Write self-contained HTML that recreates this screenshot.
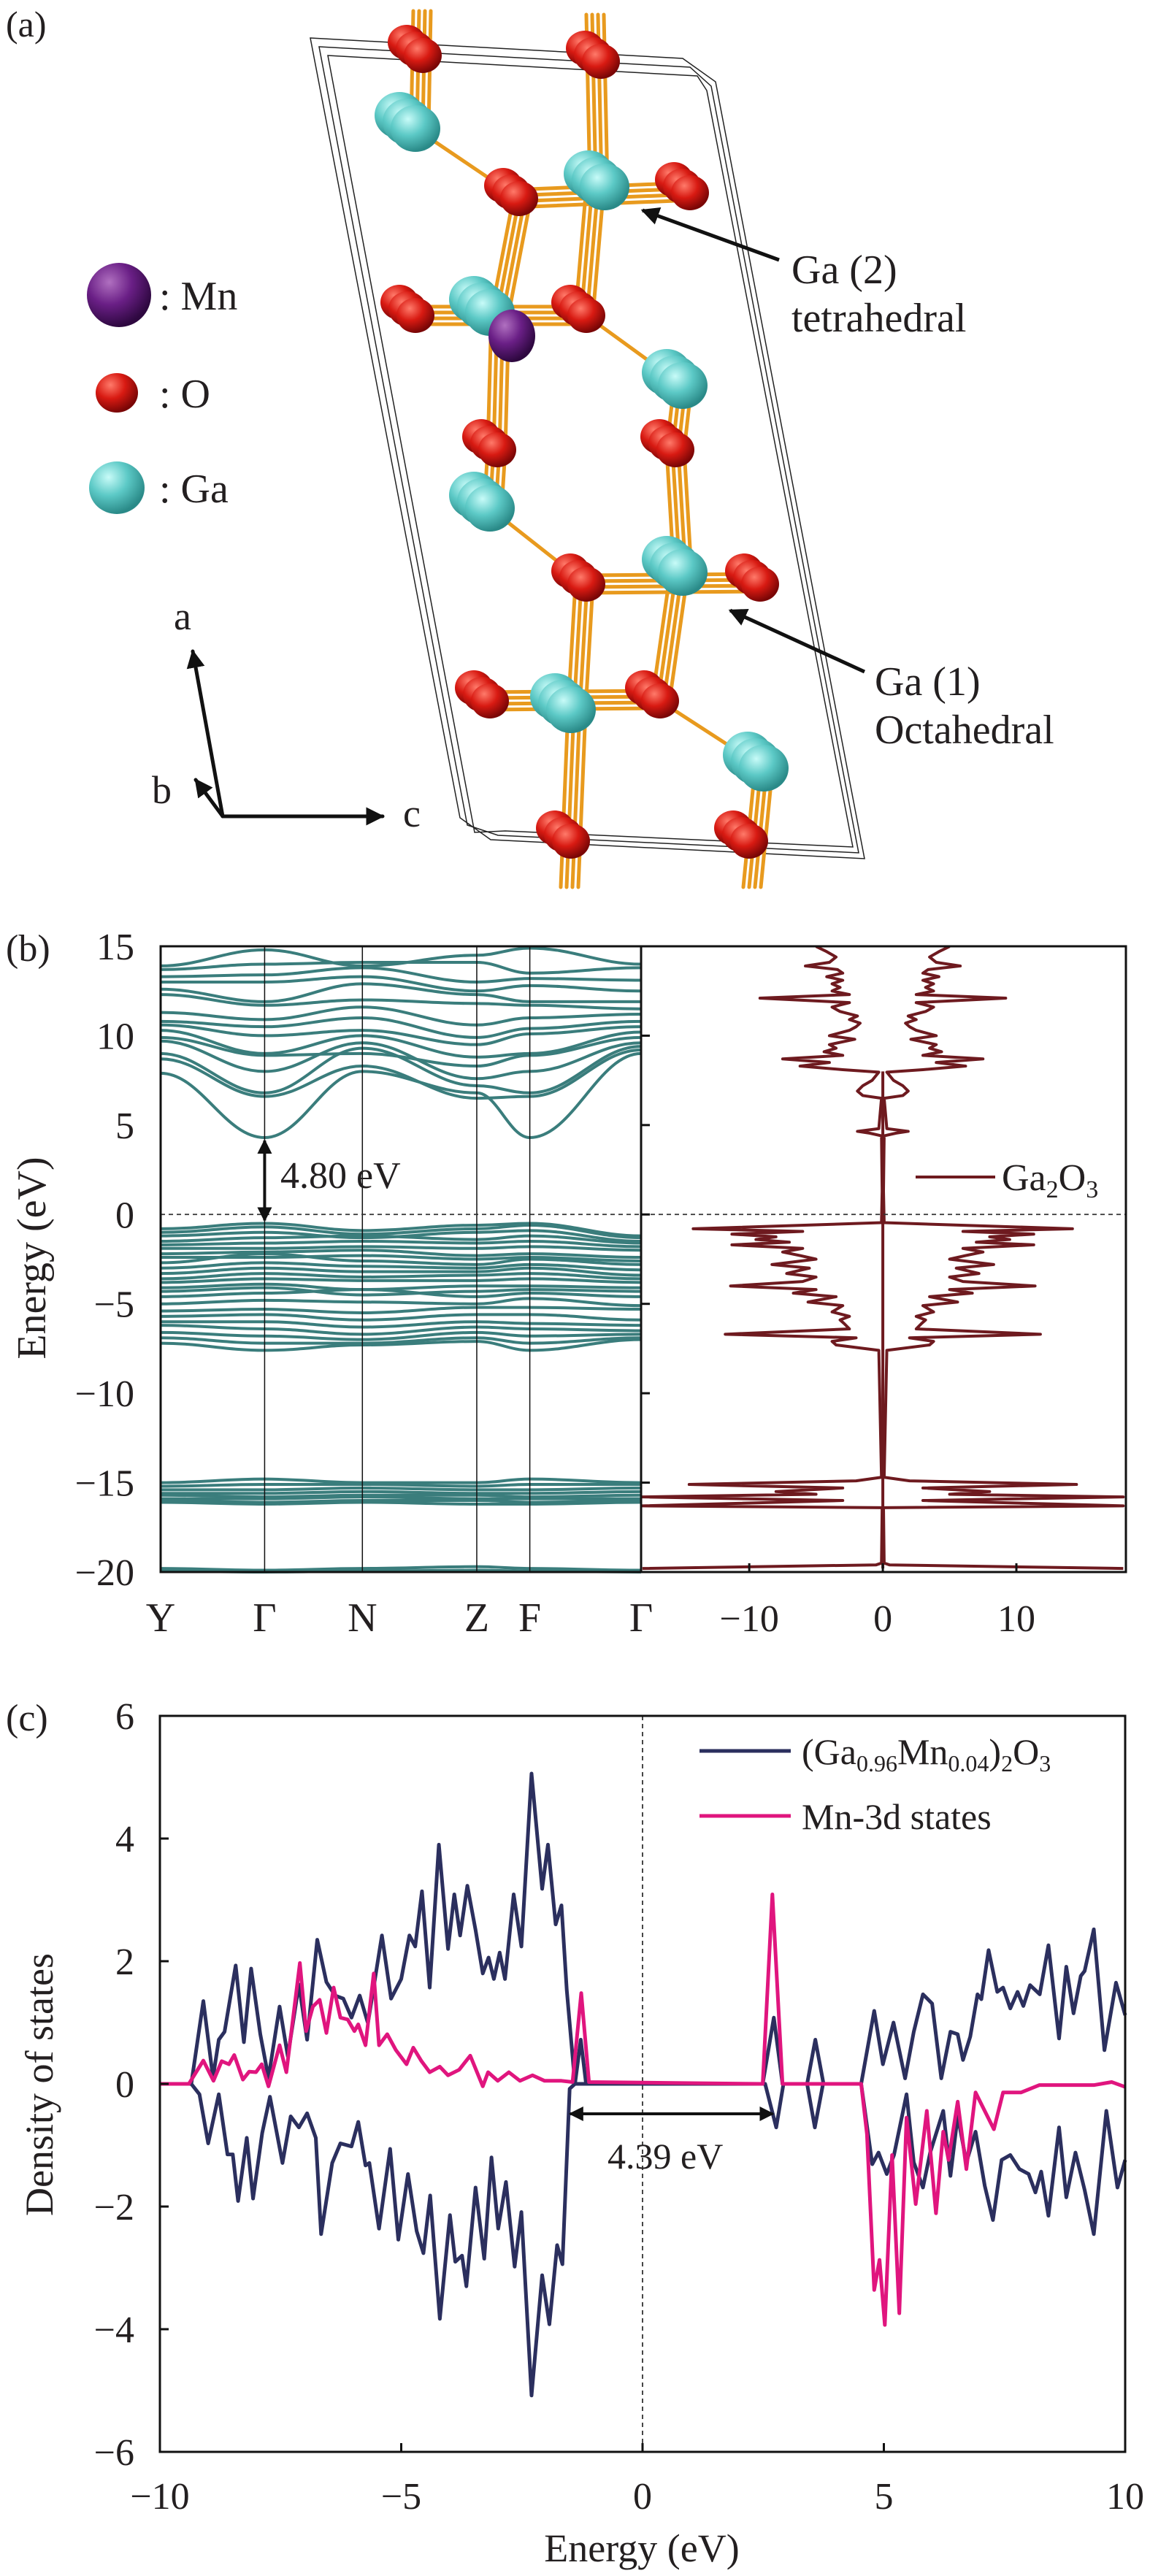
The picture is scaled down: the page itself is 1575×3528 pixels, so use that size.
<!DOCTYPE html>
<html><head><meta charset="utf-8"><style>
html,body{margin:0;padding:0;background:#fff}
svg{display:block}
text{font-family:"Liberation Serif","DejaVu Serif",serif;fill:#231f20}
</style></head>
<body>
<svg id="fig" width="1575" height="3528" viewBox="0 0 1575 3528" xmlns="http://www.w3.org/2000/svg">
<defs>
<radialGradient id="gO" cx="35%" cy="30%" r="70%"><stop offset="0" stop-color="#ff7a6a"/><stop offset="0.5" stop-color="#d81a12"/><stop offset="1" stop-color="#7a0606"/></radialGradient>
<radialGradient id="gGa" cx="35%" cy="30%" r="70%"><stop offset="0" stop-color="#c8fbf8"/><stop offset="0.5" stop-color="#5cc9c6"/><stop offset="1" stop-color="#2a8a88"/></radialGradient>
<radialGradient id="gMn" cx="35%" cy="30%" r="70%"><stop offset="0" stop-color="#b070c0"/><stop offset="0.5" stop-color="#6a1f86"/><stop offset="1" stop-color="#2e0840"/></radialGradient>
<marker id="ah" viewBox="0 0 10 10" refX="9" refY="5" markerWidth="5" markerHeight="5" orient="auto-start-reverse"><path d="M0,0 L10,5 L0,10 z" fill="#111"/></marker>
</defs>

<!-- ============ Panel (a) ============ -->
<g id="panel-a">
<text x="8" y="50" font-size="50">(a)</text>
<g id="cell" fill="none" stroke="#222" stroke-width="1.5"></g>
<g id="bonds" stroke="#e89a1e" stroke-width="5" stroke-linecap="round"></g>
<g id="atoms"></g>
<g>
<circle cx="163" cy="404" r="44" fill="url(#gMn)"/>
<text x="218" y="424" font-size="56">: Mn</text>
<ellipse cx="160" cy="538" rx="29" ry="27" fill="url(#gO)"/>
<text x="218" y="558" font-size="56">: O</text>
<ellipse cx="160" cy="668" rx="38" ry="36" fill="url(#gGa)"/>
<text x="218" y="688" font-size="56">: Ga</text>
</g>
<g stroke="#111" stroke-width="5" fill="none" stroke-linecap="round">
<line x1="305" y1="1118" x2="264" y2="892" marker-end="url(#ah)"/>
<line x1="305" y1="1118" x2="268" y2="1068" marker-end="url(#ah)"/>
<line x1="305" y1="1118" x2="524" y2="1118" marker-end="url(#ah)"/>
</g>
<text x="238" y="862" font-size="54">a</text>
<text x="208" y="1100" font-size="54">b</text>
<text x="552" y="1132" font-size="54">c</text>
<line x1="1067" y1="356" x2="880" y2="288" stroke="#111" stroke-width="5" marker-end="url(#ah)"/>
<text x="1084" y="388" font-size="56">Ga (2)</text>
<text x="1084" y="454" font-size="56">tetrahedral</text>
<line x1="1184" y1="920" x2="1000" y2="836" stroke="#111" stroke-width="5" marker-end="url(#ah)"/>
<text x="1198" y="952" font-size="56">Ga (1)</text>
<text x="1198" y="1018" font-size="56">Octahedral</text>
</g>

<!-- ============ Panel (b) ============ -->
<g id="panel-b">
<text x="8" y="1316" font-size="52">(b)</text>
<g id="b-bands" fill="none" stroke="#3a7d7c" stroke-width="4"></g>
<g id="b-dos" fill="none" stroke="#6e1a1f" stroke-width="4" stroke-linejoin="round"></g>
<g id="b-axes"></g>
<text transform="translate(62,1723) rotate(-90)" text-anchor="middle" font-size="56">Energy (eV)</text>
<text x="384" y="1627" font-size="52">4.80 eV</text>
<line x1="1254" y1="1612" x2="1363" y2="1612" stroke="#6e1a1f" stroke-width="4"/>
<text x="1372" y="1630" font-size="52">Ga<tspan font-size="34" dy="10">2</tspan><tspan dy="-10">O</tspan><tspan font-size="34" dy="10">3</tspan></text>
</g>

<!-- ============ Panel (c) ============ -->
<g id="panel-c">
<text x="8" y="2370" font-size="52">(c)</text>
<g id="c-plot"></g>
<text transform="translate(72,2855) rotate(-90)" text-anchor="middle" font-size="54">Density of states</text>
<text x="879" y="3508" text-anchor="middle" font-size="54">Energy (eV)</text>
<line x1="958" y1="2398" x2="1083" y2="2398" stroke="#2b2f5e" stroke-width="5"/>
<text x="1098" y="2416" font-size="50">(Ga<tspan font-size="32" dy="10">0.96</tspan><tspan dy="-10">Mn</tspan><tspan font-size="32" dy="10">0.04</tspan><tspan dy="-10">)</tspan><tspan font-size="32" dy="10">2</tspan><tspan dy="-10">O</tspan><tspan font-size="32" dy="10">3</tspan></text>
<line x1="958" y1="2487" x2="1083" y2="2487" stroke="#e0157e" stroke-width="5"/>
<text x="1098" y="2505" font-size="50">Mn-3d states</text>
<text x="832" y="2970" font-size="50">4.39 eV</text>
</g>
</svg>

<script>
// ---------- Panel (b) data ----------
const kLabels = ["Y","Γ","N","Z","F","Γ"];
const kPos = [0, 1, 1.94, 3.04, 3.55, 4.62];
const condBands = [
[7.9,4.3,8.0,6.8,4.3,9.0],[8.7,6.6,8.3,6.5,6.6,9.2],[9.0,6.8,9.3,7.2,6.8,9.4],
[9.7,8.0,9.6,7.6,8.0,9.6],[9.9,8.9,9.0,8.3,8.9,9.9],[10.3,9.0,10.0,8.8,9.0,10.2],
[10.6,10.0,10.3,9.5,10.1,10.5],[10.8,10.5,11.0,9.9,10.4,10.8],[11.3,10.9,11.6,10.6,11.0,11.2],
[12.3,11.7,12.0,11.8,11.7,11.5],[12.6,11.9,12.9,12.3,11.9,11.9],[13.0,13.0,13.3,12.5,12.8,12.5],
[13.3,13.4,13.8,13.0,13.2,13.1],[13.7,14.0,14.1,14.1,13.5,13.8],[13.9,14.8,13.9,14.5,14.9,14.0]];
const valBands = [
[-0.8,-0.5,-0.9,-0.6,-0.5,-1.2],[-1.0,-0.7,-1.1,-0.8,-0.6,-1.3],[-1.2,-1.0,-1.3,-1.0,-0.9,-1.5],
[-1.5,-1.3,-1.2,-1.4,-1.2,-1.6],[-1.7,-1.6,-1.5,-1.6,-1.5,-1.8],[-1.9,-1.9,-1.8,-1.9,-1.8,-2.0],
[-2.2,-2.1,-2.0,-2.3,-2.2,-2.4],[-2.4,-2.4,-2.3,-2.5,-2.4,-2.6],[-2.7,-2.2,-2.6,-2.8,-2.5,-2.8],
[-3.0,-2.7,-2.9,-3.0,-2.8,-3.1],[-3.3,-3.0,-3.2,-3.2,-3.0,-3.4],[-3.6,-3.3,-3.5,-3.4,-3.3,-3.6],
[-3.8,-3.6,-3.7,-3.7,-3.6,-3.8],[-4.1,-3.9,-4.2,-4.0,-4.0,-4.1],[-4.3,-4.1,-4.5,-4.3,-4.2,-4.3],
[-4.6,-4.4,-4.2,-4.6,-4.4,-4.6],[-5.0,-4.8,-4.9,-5.0,-4.7,-5.1],[-5.4,-5.3,-5.5,-5.2,-5.2,-5.3],
[-5.7,-5.6,-5.9,-5.6,-5.6,-5.9],[-6.0,-6.0,-6.3,-6.0,-6.1,-6.2],[-6.2,-6.4,-6.7,-6.3,-6.4,-6.5],
[-6.6,-6.8,-7.0,-6.6,-6.8,-6.7],[-6.9,-7.2,-7.2,-6.9,-7.2,-6.9],[-7.2,-7.6,-7.3,-7.1,-7.6,-7.0]];
const coreBands = [
[-15.0,-14.8,-15.0,-15.0,-14.8,-15.0],[-15.2,-15.1,-15.1,-15.2,-15.1,-15.1],
[-15.4,-15.4,-15.3,-15.4,-15.4,-15.3],[-15.6,-15.6,-15.5,-15.6,-15.6,-15.5],
[-15.7,-15.8,-15.7,-15.7,-15.8,-15.7],[-15.9,-15.9,-15.8,-15.9,-15.9,-15.9],
[-16.0,-16.1,-16.0,-16.0,-16.1,-16.0],[-16.1,-16.2,-16.1,-16.2,-16.2,-16.1],
[-19.8,-19.9,-19.8,-19.7,-19.8,-19.9],[-19.95,-20,-19.95,-19.9,-19.95,-20]];
const bandTicks = [15,10,5,0,-5,-10,-15,-20];
const dosE = [-19.8,-19.6,-19.5,-16.4,-16.3,-16.0,-15.8,-15.65,-15.5,-15.3,-15.1,-14.9,-14.7,
-7.6,-7.3,-7.1,-6.9,-6.7,-6.4,-6.1,-5.9,-5.7,-5.45,-5.1,-4.9,-4.6,-4.4,-4.2,-4.0,-3.75,-3.5,-3.3,-3.0,-2.8,-2.5,-2.3,-2.1,-1.9,-1.7,-1.55,-1.4,-1.25,-1.1,-0.95,-0.8,
-0.46,1.3,4.4,4.55,4.65,4.8,6.5,
6.65,6.9,7.2,7.5,7.96,8.1,8.3,8.5,8.7,8.9,9.1,9.3,9.5,9.8,10.0,10.3,10.5,10.7,10.9,11.1,11.35,11.6,11.85,12.1,12.3,12.5,12.7,12.9,13.1,13.3,13.5,13.7,13.9,14.1,14.4,14.7,14.99];
const dosV = [18,0.5,0.1,0.05,18,3,18,5,8.0,3,14.5,2,0.1,
0.3,3.5,3.8,2,11.8,2.5,2.9,3.2,2.5,3.8,3,5.6,3.5,6.7,5,11.4,6,5,7.2,5.5,8.3,5,6.2,7.5,6,11.3,7,9.5,8,11.3,6,14.2,
0.1,0.05,0.1,1.0,1.9,0.3,0.1,
1.5,1.9,1.5,0.8,0.3,3,6.2,4,7.5,3,4.4,3.5,4,2.1,4.0,2.5,2.0,1.7,2.5,1.9,3.2,3.8,2.5,9.2,2.5,3.8,3.2,3.8,3,4.2,3,3.4,5.8,4,3.5,4.2,5.0];
const dosTicks = [-10,0,10];

// ---------- Panel (c) data ----------
const totUpE = [-10,-9.35,-9.1,-8.9,-8.78,-8.66,-8.43,-8.26,-8.11,-7.92,-7.75,-7.52,-7.35,-7.12,-6.95,-6.74,-6.55,-6.37,-6.2,-6.03,-5.86,-5.69,-5.4,-5.21,-5.0,-4.83,-4.71,-4.57,-4.41,-4.22,-4.03,-3.9,-3.78,-3.63,-3.46,-3.31,-3.19,-3.08,-2.96,-2.85,-2.67,-2.51,-2.3,-2.08,-1.96,-1.8,-1.68,-1.57,-1.4,-1.28,-1.17,2.49,2.72,2.9,3.41,3.58,3.75,4.53,4.8,4.98,5.2,5.44,5.62,5.81,6.0,6.19,6.38,6.53,6.64,6.79,6.94,7.02,7.17,7.35,7.47,7.62,7.77,7.89,8.03,8.23,8.41,8.63,8.78,8.93,9.08,9.16,9.35,9.57,9.81,10];
const totUpV = [0,0,1.35,0.1,0.72,0.85,1.93,0.68,1.88,0.81,0.1,1.26,0.45,1.62,0.72,2.35,1.66,1.44,1.39,1.08,1.44,0.99,2.42,1.39,1.71,2.42,2.24,3.14,1.57,3.9,2.2,3.09,2.42,3.23,2.51,1.8,2.06,1.71,2.14,1.71,3.09,2.24,5.06,3.18,3.9,2.6,2.91,1.53,0,0.72,0,0,1.08,0,0,0.72,0,0,1.19,0.32,1.0,0.09,0.85,1.46,1.31,0.09,0.85,0.81,0.39,0.77,1.46,1.38,2.18,1.5,1.57,1.23,1.5,1.27,1.61,1.46,2.26,0.74,1.91,1.15,1.76,1.84,2.52,0.55,1.65,1.12];
const totDnE = [-10,-9.35,-9.18,-9.0,-8.78,-8.6,-8.49,-8.38,-8.2,-8.07,-7.88,-7.72,-7.46,-7.29,-7.12,-6.95,-6.77,-6.66,-6.43,-6.26,-6.03,-5.89,-5.74,-5.66,-5.46,-5.23,-5.06,-4.86,-4.68,-4.54,-4.4,-4.2,-3.99,-3.88,-3.74,-3.65,-3.46,-3.28,-3.13,-2.99,-2.83,-2.65,-2.51,-2.3,-2.08,-1.93,-1.77,-1.66,-1.51,-1.4,2.54,2.77,2.92,3.41,3.57,3.74,4.53,4.76,4.89,5.06,5.21,5.47,5.62,5.81,5.96,6.23,6.38,6.53,6.71,6.9,7.09,7.26,7.44,7.62,7.81,8.0,8.14,8.26,8.41,8.63,8.78,8.97,9.16,9.35,9.61,9.84,10];
const totDnV = [0,0,-0.17,-0.97,-0.17,-1.15,-1.15,-1.91,-0.88,-1.87,-0.8,-0.21,-1.29,-0.53,-0.71,-0.48,-0.88,-2.45,-1.29,-0.97,-1.02,-0.62,-1.33,-1.29,-2.36,-1.06,-2.54,-1.47,-2.4,-2.76,-1.82,-3.83,-2.14,-2.9,-2.8,-3.3,-1.69,-2.85,-1.2,-2.36,-1.6,-2.98,-2.09,-5.08,-3.12,-3.92,-2.63,-2.94,-0.08,0,0,-0.71,0,0,-0.71,0,0,-1.31,-1.12,-1.47,-1.16,-0.17,-1.28,-1.69,-1.12,-0.44,-1.5,-0.52,-1.28,-0.78,-1.66,-2.22,-1.24,-1.16,-1.39,-1.47,-1.77,-1.43,-2.15,-0.71,-1.85,-1.12,-1.73,-2.45,-0.44,-1.69,-1.24];
const mnE = [-10,-9.4,-9.1,-8.89,-8.72,-8.57,-8.46,-8.28,-8.15,-8.01,-7.89,-7.75,-7.52,-7.38,-7.1,-6.97,-6.83,-6.69,-6.55,-6.4,-6.26,-6.11,-5.97,-5.89,-5.74,-5.57,-5.46,-5.29,-5.11,-4.89,-4.75,-4.58,-4.41,-4.2,-4.03,-3.8,-3.57,-3.31,-3.2,-3.0,-2.77,-2.54,-2.28,-2.03,-1.68,-1.45,-1.27,-1.11,2.49,2.69,2.9,4.53,4.65,4.8,4.91,5.02,5.17,5.32,5.47,5.66,5.89,6.08,6.23,6.34,6.53,6.71,6.9,7.09,7.28,7.47,7.84,8.22,8.59,9.35,9.72,10];
const mnV = [0,0,0.38,0.05,0.37,0.32,0.47,0.07,0.2,0.19,0.32,-0.04,0.63,0.19,1.97,0.86,1.26,1.37,0.83,1.57,1.08,1.05,0.86,0.97,0.63,1.8,0.63,0.81,0.55,0.32,0.59,0.37,0.19,0.28,0.14,0.23,0.46,-0.04,0.19,0.05,0.19,0.05,0.14,0.05,0.05,0.03,1.48,0.03,0,3.09,0,0,-0.82,-3.36,-2.87,-3.93,-1.16,-3.74,-0.55,-1.96,-0.44,-2.11,-0.78,-1.24,-0.29,-1.39,-0.14,-0.44,-0.74,-0.14,-0.14,-0.02,-0.02,-0.02,0.03,-0.05];
const dosYTicks = [6,4,2,0,-2,-4,-6];
const dosXTicks = [-10,-5,0,5,10];
const gapStart = -1.5, gapEnd = 2.7;

const NS = "http://www.w3.org/2000/svg";
function mk(tag, attrs, parent){ const e=document.createElementNS(NS,tag); for(const k in attrs) e.setAttribute(k,attrs[k]); parent.appendChild(e); return e; }

// ---------- Panel (a) drawing ----------
(function(){
  const cell=document.getElementById('cell');
  for(let i=0;i<3;i++){
    const p=mk('polygon',{points:`${425+i*12},${52+i*12} ${935+i*10},${80+i*12} ${980-i*6},${112+i*6} ${1184-i*8},${1176-i*8} ${672+i*10},${1150-i*6} ${630+i*10},${1120+i*10}`},cell);
    
    
  }
  const bonds=document.getElementById('bonds');
  const bundles=[[578,15,575,176],[815,20,820,256],[815,256,800,432],[715,272,685,428],[685,428,680,616],[680,616,675,696],[935,528,925,616],[925,616,935,784],[800,800,790,972],[930,784,905,960],[790,972,780,1215],[1046,1052,1030,1215]];
  bundles.forEach(b=>{for(let j=0;j<4;j++){const l=mk('line',{x1:b[0]-12+j*8,y1:b[1],x2:b[2]-12+j*8,y2:b[3]},bonds);
    
    }});
  const hb=[[700,272,950,262],[560,432,808,432],[795,800,1050,798],[660,960,910,958]];
  hb.forEach(b=>{for(let j=0;j<4;j++){const l=mk('line',{x1:b[0],y1:b[1]-12+j*8,x2:b[2],y2:b[3]-12+j*8},bonds);
    
    }});
  [[569,176,711,272],[803,432,935,528],[671,696,803,800],[904,960,1046,1052]].forEach(b=>{const l=mk('line',{x1:b[0],y1:b[1],x2:b[2],y2:b[3]},bonds);
    
    });
  const atoms=document.getElementById('atoms');
  const O=[[579,76],[823,84],[711,272],[945,264],[569,432],[803,432],[681,616],[925,616],[803,800],[1041,800],[671,960],[904,960],[782,1152],[1026,1152]];
  const G=[[569,176],[828,256],[671,428],[935,528],[671,696],[935,784],[782,972],[1046,1052]];
  O.forEach(a=>{for(let j=2;j>=0;j--){const c=mk('ellipse',{cx:a[0]-j*11,cy:a[1]-j*9,rx:26,ry:24,fill:'url(#gO)'},atoms);
    
    }});
  G.forEach(a=>{for(let j=2;j>=0;j--){const c=mk('ellipse',{cx:a[0]-j*11,cy:a[1]-j*9,rx:34,ry:32,fill:'url(#gGa)'},atoms);
    
    }});
  const mn=mk('ellipse',{cx:701,cy:460,rx:32,ry:36,fill:'url(#gMn)'},atoms);
  
  
})();

// ---------- Panel (b) drawing ----------
(function(){
  const L=220, D=878, R=1542, T=1296, B=2153;
  const yB=e=>T+(15-e)*(B-T)/35;
  const xK=k=>L+k*(D-L)/kPos[kPos.length-1];
  const xD=v=>D+(v+18.1)*(R-D)/36.3;
  const gB=document.getElementById('b-bands');
  const all=condBands.concat(valBands,coreBands);
  all.forEach(bd=>{
    let d=`M${xK(kPos[0])},${yB(bd[0])}`;
    for(let i=1;i<bd.length;i++){
      const x0=xK(kPos[i-1]),x1=xK(kPos[i]),dx=(x1-x0)/2.6;
      d+=` C${x0+dx},${yB(bd[i-1])} ${x1-dx},${yB(bd[i])} ${x1},${yB(bd[i])}`;
    }
    const p=mk('path',{d},gB);
    
    
  });
  const gD=document.getElementById('b-dos');
  [1,-1].forEach(s=>{
    const pts=dosE.map((e,i)=>`${xD(s*dosV[i])},${yB(e)}`).join(' ');
    const pl=mk('polyline',{points:pts},gD);
    
    
  });
  const spine=mk('line',{x1:xD(0),y1:yB(dosE[0]),x2:xD(0),y2:yB(8)},gD);
  
  
  const gA=document.getElementById('b-axes');
  kPos.forEach((k,i)=>{
    if(i>0&&i<kPos.length-1){const l=mk('line',{x1:xK(k),y1:T,x2:xK(k),y2:B,stroke:'#111','stroke-width':1.5},gA);
      
      }
    const t=mk('text',{x:xK(k),y:2234,'text-anchor':'middle','font-size':56},gA);
    t.textContent=kLabels[i];
    
    
  });
  const z=mk('line',{x1:L,y1:yB(0),x2:R,y2:yB(0),stroke:'#333','stroke-width':1.8,'stroke-dasharray':'6,5'},gA);
  
  
  bandTicks.forEach(v=>{
    const t=mk('text',{x:184,y:yB(v)+18,'text-anchor':'end','font-size':52},gA);
    t.textContent=(v<0?'\u2212':'')+Math.abs(v);
    
    
    const tk=mk('line',{x1:D,y1:yB(v),x2:D+12,y2:yB(v),stroke:'#111','stroke-width':3},gA);
    
    
  });
  dosTicks.forEach(v=>{
    const t=mk('text',{x:xD(v),y:2234,'text-anchor':'middle','font-size':52},gA);
    t.textContent=(v<0?'\u2212':'')+Math.abs(v);
    
    
    const tk=mk('line',{x1:xD(v),y1:B,x2:xD(v),y2:B-12,stroke:'#111','stroke-width':3},gA);
    
    
  });
  const fr=mk('rect',{x:L,y:T,width:R-L,height:B-T,fill:'none',stroke:'#111','stroke-width':3},gA);
  
  
  const dv=mk('line',{x1:D,y1:T,x2:D,y2:B,stroke:'#111','stroke-width':3},gA);
  
  
  const ar=mk('line',{x1:xK(kPos[1]),y1:yB(condBands[0][1])+4,x2:xK(kPos[1]),y2:yB(valBands[0][1])-4,stroke:'#111','stroke-width':4,'marker-start':'url(#ah)','marker-end':'url(#ah)'},gA);
  
  
})();

// ---------- Panel (c) drawing ----------
(function(){
  const L=219, R=1541, T=2350, B=3358;
  const xC=e=>L+(e+10)*(R-L)/20;
  const yC=v=>T+(6-v)*(B-T)/12;
  const g=document.getElementById('c-plot');
  const vz=mk('line',{x1:xC(0),y1:T,x2:xC(0),y2:B,stroke:'#333','stroke-width':1.8,'stroke-dasharray':'6,5'},g);
  
  
  const series=[[totUpE,totUpV,'#2b2f5e','total-dos-spin-up'],[totDnE,totDnV,'#2b2f5e','total-dos-spin-down'],[mnE,mnV,'#e0157e','mn-3d-dos']];
  series.forEach(s=>{
    const pts=s[0].map((e,i)=>`${xC(e)},${yC(s[1][i])}`).join(' ');
    const pl=mk('polyline',{points:pts,fill:'none',stroke:s[2],'stroke-width':5,'stroke-linejoin':'round'},g);
    
    
  });
  dosYTicks.forEach(v=>{
    const t=mk('text',{x:184,y:yC(v)+18,'text-anchor':'end','font-size':52},g);
    t.textContent=(v<0?'\u2212':'')+Math.abs(v);
    
    
    const tk=mk('line',{x1:L,y1:yC(v),x2:L+12,y2:yC(v),stroke:'#111','stroke-width':3},g);
    
    
  });
  dosXTicks.forEach(v=>{
    const t=mk('text',{x:xC(v),y:3436,'text-anchor':'middle','font-size':52},g);
    t.textContent=(v<0?'\u2212':'')+Math.abs(v);
    
    
    const tk=mk('line',{x1:xC(v),y1:B,x2:xC(v),y2:B-12,stroke:'#111','stroke-width':3},g);
    
    
  });
  const ax=mk('rect',{x:L,y:T,width:R-L,height:B-T,fill:'none',stroke:'#111','stroke-width':3},g);
  
  
  const ar=mk('line',{x1:xC(gapStart),y1:2895,x2:xC(gapEnd),y2:2895,stroke:'#111','stroke-width':4,'marker-start':'url(#ah)','marker-end':'url(#ah)'},g);
  
  
})();
</script>
</body></html>
